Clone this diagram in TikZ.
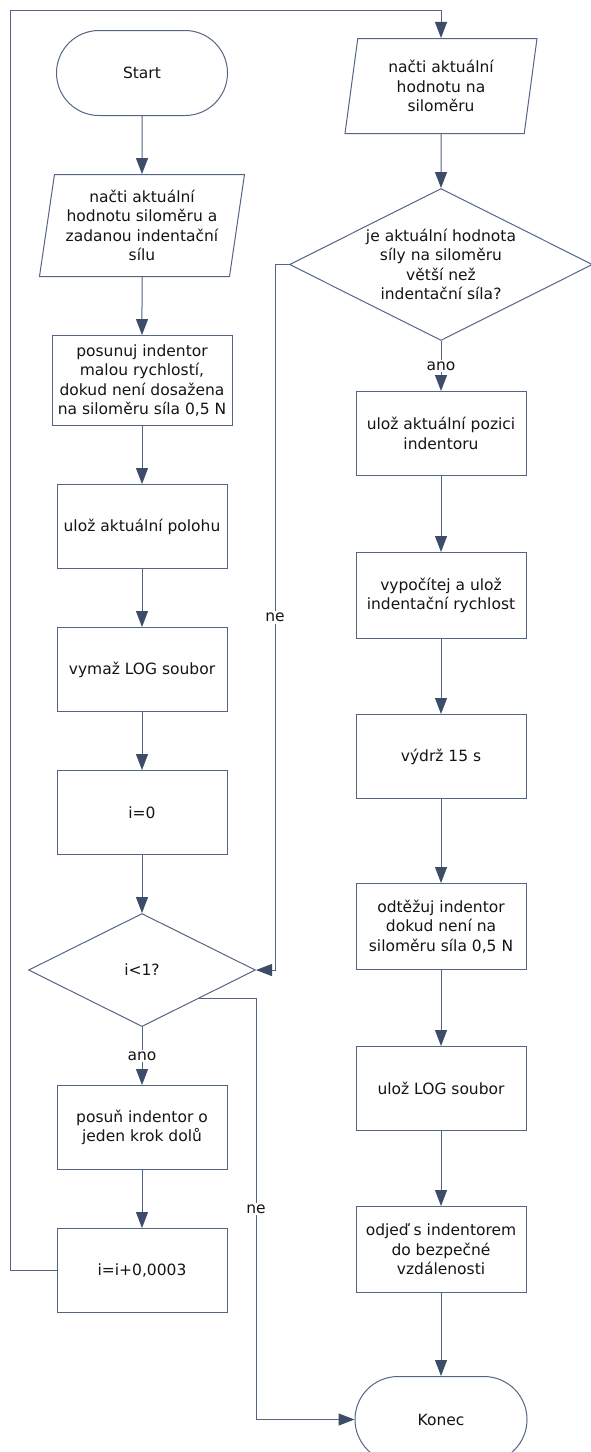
\documentclass[tikz,border=0pt]{standalone}
\usepackage{fontspec}
\setmainfont{DejaVu Sans}
\usetikzlibrary{positioning, arrows.meta, shapes.geometric, shapes.misc}
\definecolor{linec}{RGB}{84,100,132}
\definecolor{tipc}{RGB}{60,76,105}
\definecolor{txtc}{RGB}{20,20,20}
\newcommand{\flowfont}{\fontsize{15.5pt}{19.3pt}\selectfont}

\begin{document}
\begin{tikzpicture}[x=1pt, y=1pt, node distance=58pt]
    \tikzset{
      base/.style={
        draw=linec, line width=1pt, text=txtc,
        align=center, inner sep=0pt, font=\flowfont
      },
      term/.style={base, rounded rectangle, minimum width=171pt, minimum height=85pt},
      io/.style={base, trapezium, trapezium stretches body,
        trapezium left angle=78, trapezium right angle=102,
        minimum width=205pt, minimum height=102pt},
      box/.style={base, rectangle, minimum width=170pt, minimum height=84pt},
      cond/.style={base, diamond, aspect=2},
      flow/.style={draw=linec, line width=1pt,
        -{Triangle[length=16pt,width=12pt,color=tipc]}},
      lbl/.style={fill=white, inner sep=2pt, font=\flowfont, text=txtc}
    }
    \useasboundingbox (0,0) rectangle (590,-1452);

    % Left column
    \node[term] (l1) at (142,-73) {Start};
    \node[io, below=of l1] (l2) {načti aktuální\\hodnotu siloměru a\\zadanou indentační\\sílu};
    \node[box, below=of l2, minimum width=180pt, minimum height=90pt] (l3) {posunuj indentor\\malou rychlostí,\\dokud není dosažena\\na siloměru síla 0,5 N};
    \node[box, below=of l3] (l4) {ulož aktuální polohu};
    \node[box, below=of l4] (l5) {vymaž LOG soubor};
    \node[box, below=of l5] (l6) {i=0};
    \node[cond, below=of l6, minimum width=227pt, minimum height=113pt] (l7) {i<1?};
    \node[box, below=of l7] (l8) {posuň indentor o\\jeden krok dolů};
    \node[box, below=of l8] (l9) {i=i+0,0003};

    % Right column
    \node[io, trapezium left angle=76, trapezium right angle=104,
      minimum width=192pt, minimum height=95pt] (r1) at (441,-86) {načti aktuální\\hodnotu na\\siloměru};
    \node[cond, below=54pt of r1, minimum width=303pt, minimum height=152pt] (r2) {je aktuální hodnota\\síly na siloměru\\větší než\\indentační síla?};
    \node[box, below=50pt of r2] (r3) {ulož aktuální pozici\\indentoru};
    \node[box, below=76pt of r3, minimum height=86pt] (r4) {vypočítej a ulož\\indentační rychlost};
    \node[box, below=75pt of r4] (r5) {výdrž 15 s};
    \node[box, below=84pt of r5, minimum height=86pt] (r6) {odtěžuj indentor\\dokud není na\\siloměru síla 0,5 N};
    \node[box, below=76pt of r6] (r7) {ulož LOG soubor};
    \node[box, below=75pt of r7, minimum height=86pt] (r8) {odjeď s indentorem\\do bezpečné\\vzdálenosti};
    \node[term, below=83pt of r8, minimum width=172pt, minimum height=86pt] (r9) {Konec};

    % Arrows
    \foreach \a/\b in {l1/l2, l2/l3, l3/l4, l4/l5, l5/l6, l6/l7, l8/l9,
                       r1/r2, r3/r4, r4/r5, r5/r6, r6/r7, r7/r8, r8/r9}
      \draw[flow] (\a) -- (\b);
    \draw[flow] (l7) -- node[lbl] {ano} (l8);
    \draw[flow] (r2) -- node[lbl] {ano} (r3);
    \draw[flow] (r2.west) -- ++(-14,0) |- node[lbl, pos=0.25] {ne} (l7.east);
    \draw[flow] (l7.south east) -- (l7.south east -| l7.east) |- node[lbl, pos=0.25] {ne} (r9.west);
    \draw[flow] (l9.west) -- ++(-46,0) |- ([yshift=27pt]r1.north) -- (r1.north);
  \end{tikzpicture}
\end{document}
